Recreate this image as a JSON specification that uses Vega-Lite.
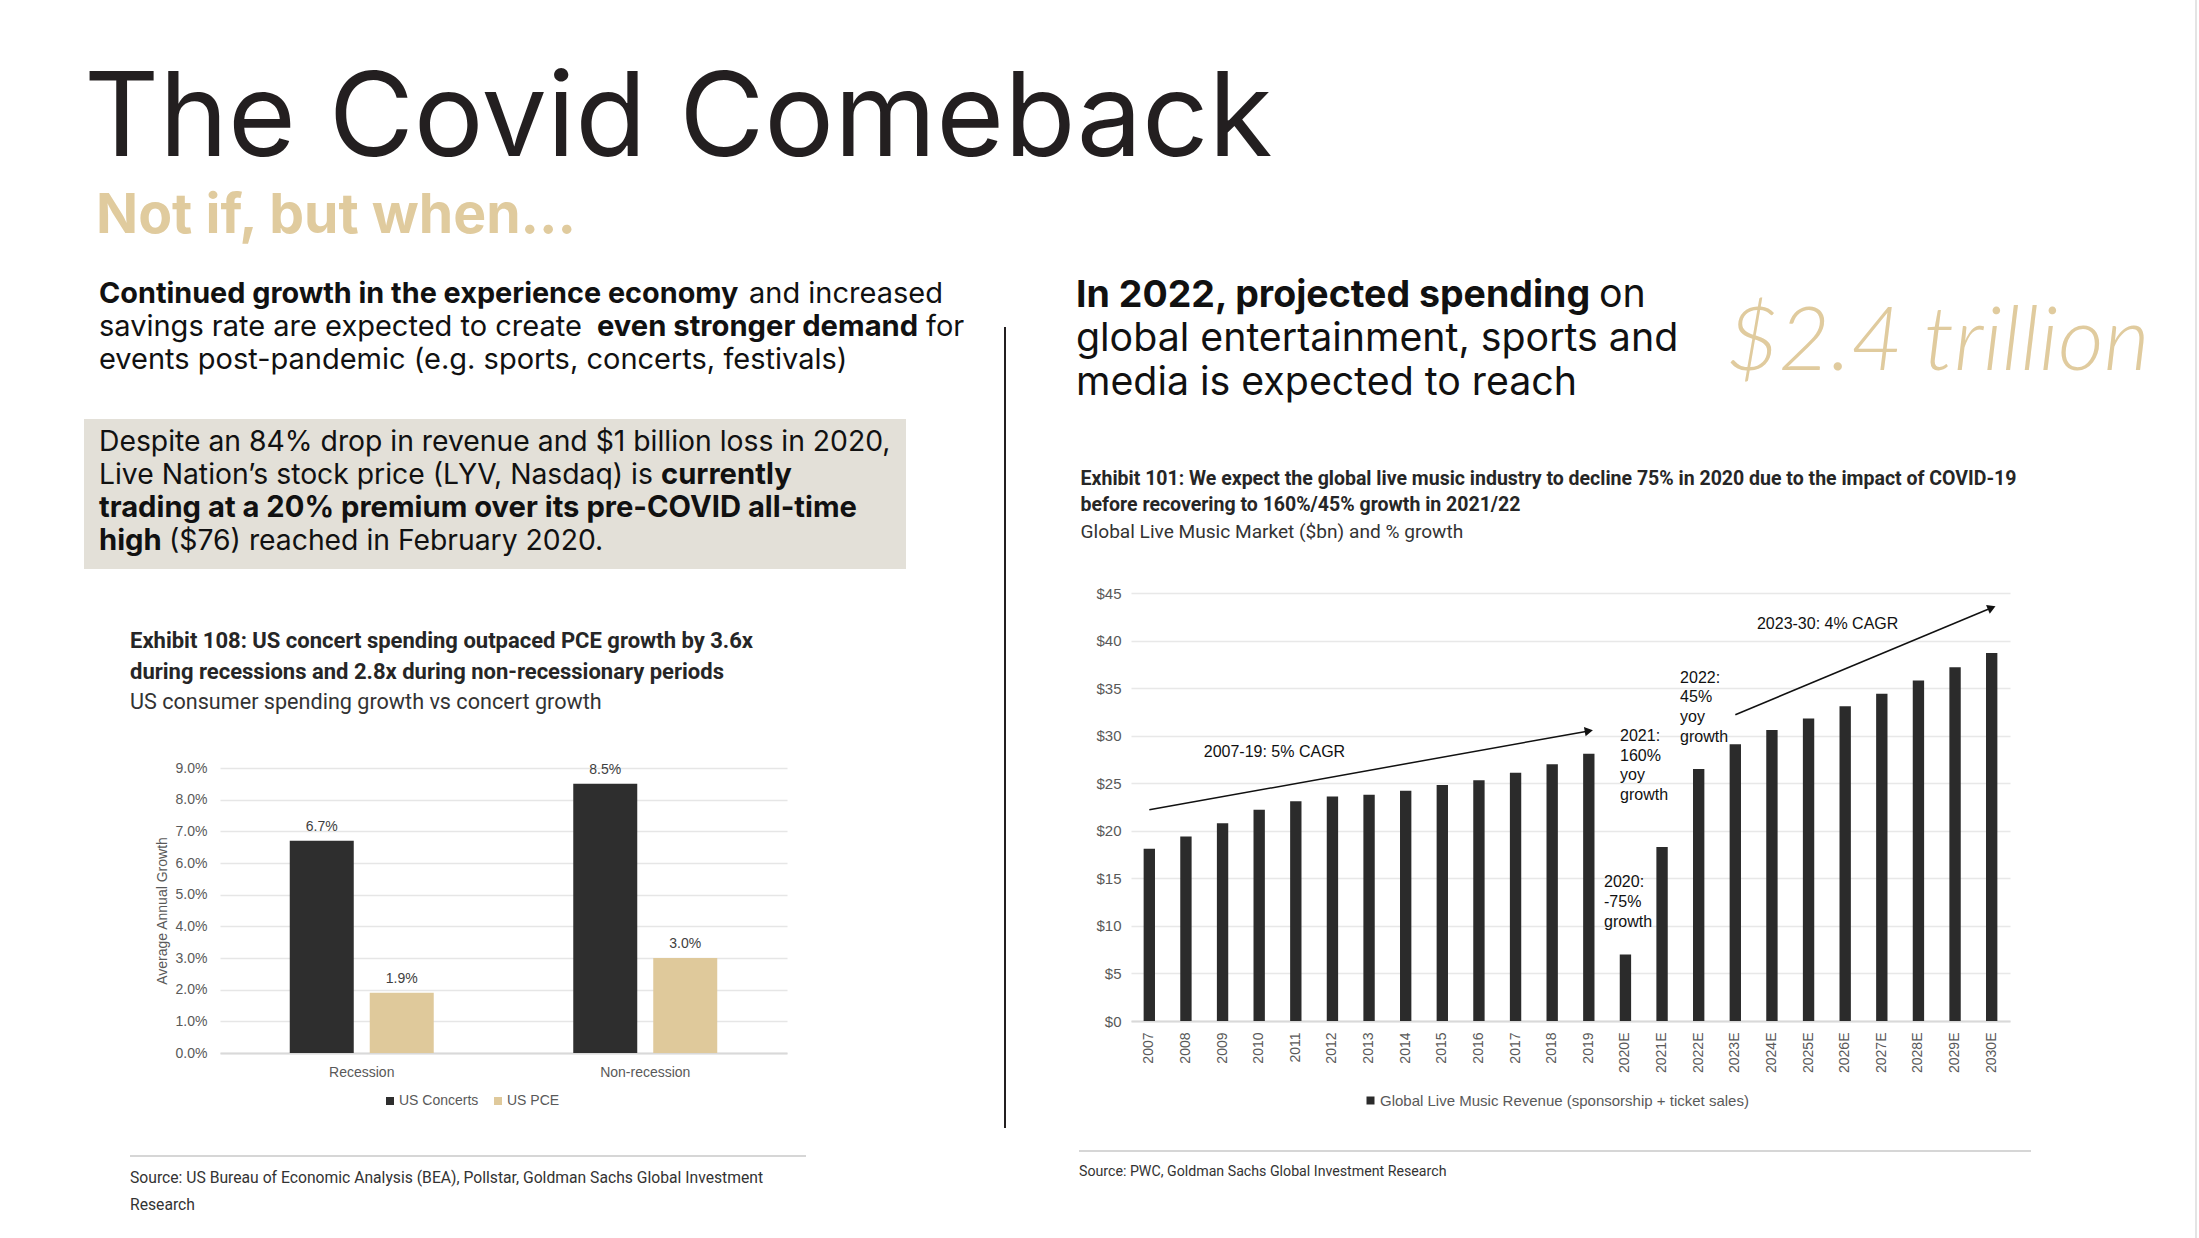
{
  "$schema": "https://vega.github.io/schema/vega-lite/v6.json",
  "background": "#ffffff",
  "padding": {"left": 84, "top": 0, "right": 0, "bottom": 0},
  "config": {
    "view": {"stroke": null},
    "concat": {"spacing": 0},
    "font": "Liberation Sans",
    "axis": {"labelFont": "Liberation Sans", "titleFont": "Liberation Sans"},
    "legend": {"labelFont": "Liberation Sans"}
  },
  "bounds": "flush",
  "spacing": 0,
  "resolve": {"scale": {"x": "independent", "y": "independent", "color": "independent"}, "legend": {"color": "independent"}},
  "hconcat": [
    {
      "bounds": "flush",
      "spacing": 0,
      "resolve": {"scale": {"x": "independent", "y": "independent", "color": "independent"}, "legend": {"color": "independent"}},
      "vconcat": [
        {"width": 920, "height": 100, "data": {"values": []}, "mark": "point"},
        {
          "width": 920, "height": 111.4,
          "data": {"values": [{"text": "The Covid Comeback"}]},
          "mark": {"type": "text", "align": "left", "baseline": "alphabetic", "font": "Inter", "fontSize": 116.5, "fontWeight": 400, "color": "#231f20", "dx": 0},
          "encoding": {
            "x": {"datum": 0, "type": "quantitative", "scale": {"domain": [0, 1]}, "axis": null},
            "text": {"field": "text"}
          }
        },
        {
          "width": 920, "height": 41.2,
          "data": {"values": [{"text": "Not if, but when..."}]},
          "mark": {"type": "text", "align": "left", "baseline": "alphabetic", "font": "Inter", "fontSize": 55.3, "fontWeight": 700, "color": "#e0cb9e", "dx": 12},
          "encoding": {
            "x": {"datum": 0, "type": "quantitative", "scale": {"domain": [0, 1]}, "axis": null},
            "text": {"field": "text"}
          }
        },
        {"width": 920, "height": 32.75, "data": {"values": []}, "mark": "point"},
        {
          "width": 920, "height": 98.1,
          "data": {"values": [
            {"line": 1, "part": "b0", "text": "Continued growth in the experience economy"},
            {"line": 1, "part": "r1", "text": "and increased"},
            {"line": 2, "part": "r0", "text": "savings rate are expected to create"},
            {"line": 2, "part": "b1", "text": "even stronger demand"},
            {"line": 2, "part": "r2", "text": "for"},
            {"line": 3, "part": "r0", "text": "events post-pandemic (e.g. sports, concerts, festivals)"}
          ]},
          "encoding": {
            "x": {"datum": 0, "type": "quantitative", "scale": {"domain": [0, 1]}, "axis": null},
            "y": {"field": "line", "type": "ordinal", "axis": null, "scale": {"padding": 0.5}},
            "text": {"field": "text"}
          },
          "layer": [
            {"transform": [{"filter": "datum.part === 'b0'"}], "mark": {"type": "text", "align": "left", "baseline": "alphabetic", "font": "Inter", "fontSize": 28.8, "fontWeight": 700, "color": "#111111", "dx": 15}},
            {"transform": [{"filter": "datum.part === 'r0'"}], "mark": {"type": "text", "align": "left", "baseline": "alphabetic", "font": "Inter", "fontSize": 29, "fontWeight": 400, "color": "#111111", "dx": 15}},
            {"transform": [{"filter": "datum.part === 'r1'"}], "mark": {"type": "text", "align": "left", "baseline": "alphabetic", "font": "Inter", "fontSize": 29, "fontWeight": 400, "color": "#111111", "dx": 665}},
            {"transform": [{"filter": "datum.part === 'b1'"}], "mark": {"type": "text", "align": "left", "baseline": "alphabetic", "font": "Inter", "fontSize": 29.2, "fontWeight": 700, "color": "#111111", "dx": 513}},
            {"transform": [{"filter": "datum.part === 'r2'"}], "mark": {"type": "text", "align": "left", "baseline": "alphabetic", "font": "Inter", "fontSize": 29, "fontWeight": 400, "color": "#111111", "dx": 842}}
          ]
        },
        {"width": 920, "height": 32.55, "data": {"values": []}, "mark": "point"},
        {
          "width": 822, "height": 150,
          "view": {"fill": "#e3e0d8", "stroke": null},
          "data": {"values": [
            {"line": 1, "part": "r0", "text": "Despite an 84% drop in revenue and $1 billion loss in 2020,"},
            {"line": 2, "part": "r0", "text": "Live Nation’s stock price (LYV, Nasdaq) is"},
            {"line": 2, "part": "b1", "text": "currently"},
            {"line": 3, "part": "b0", "text": "trading at a 20% premium over its pre-COVID all-time"},
            {"line": 4, "part": "b0", "text": "high"},
            {"line": 4, "part": "r1", "text": "($76) reached in February 2020."}
          ]},
          "encoding": {
            "x": {"datum": 0, "type": "quantitative", "scale": {"domain": [0, 1]}, "axis": null},
            "y": {"field": "line", "type": "ordinal", "axis": null, "scale": {"padding": 0.787, "align": 0.626}},
            "text": {"field": "text"}
          },
          "layer": [
            {"transform": [{"filter": "datum.part === 'r0'"}], "mark": {"type": "text", "align": "left", "baseline": "alphabetic", "font": "Inter", "fontSize": 28.3, "fontWeight": 400, "color": "#111111", "dx": 15}},
            {"transform": [{"filter": "datum.part === 'b0'"}], "mark": {"type": "text", "align": "left", "baseline": "alphabetic", "font": "Inter", "fontSize": 29.2, "fontWeight": 700, "color": "#111111", "dx": 15}},
            {"transform": [{"filter": "datum.part === 'b1'"}], "mark": {"type": "text", "align": "left", "baseline": "alphabetic", "font": "Inter", "fontSize": 29.2, "fontWeight": 700, "color": "#111111", "dx": 577}},
            {"transform": [{"filter": "datum.part === 'r1'"}], "mark": {"type": "text", "align": "left", "baseline": "alphabetic", "font": "Inter", "fontSize": 28.3, "fontWeight": 400, "color": "#111111", "dx": 85}}
          ]
        },
        {"width": 920, "height": 199, "data": {"values": []}, "mark": "point"},
        {
          "bounds": "flush",
          "spacing": 0,
          "resolve": {"scale": {"x": "independent", "y": "independent", "color": "independent"}, "legend": {"color": "independent"}},
          "hconcat": [
            {"width": 136, "height": 285, "data": {"values": []}, "mark": "point"},
            {
              "width": 567, "height": 285,
              "title": {
                "text": ["Exhibit 108: US concert spending outpaced PCE growth by 3.6x", "during recessions and 2.8x during non-recessionary periods"],
                "subtitle": "US consumer spending growth vs concert growth",
                "anchor": "start", "frame": "group", "dx": -90, "offset": 46.5,
                "font": "Roboto", "fontSize": 22, "fontWeight": "bold", "color": "#262626", "lineHeight": 31,
                "subtitleFont": "Roboto", "subtitleFontSize": 21.6, "subtitleFontWeight": 400, "subtitleColor": "#333333", "subtitlePadding": 7.7
              },
              "data": {"values": [
                {"period": "Recession", "series": "US Concerts", "growth": 0.067},
                {"period": "Recession", "series": "US PCE", "growth": 0.019},
                {"period": "Non-recession", "series": "US Concerts", "growth": 0.085},
                {"period": "Non-recession", "series": "US PCE", "growth": 0.030}
              ]},
              "encoding": {
                "x": {"field": "period", "type": "nominal", "sort": ["Recession", "Non-recession"],
                  "scale": {"paddingInner": 0, "paddingOuter": 0},
                  "axis": {"title": null, "labelAngle": 0, "labelFontSize": 14, "labelColor": "#595959", "labelPadding": 12, "ticks": false, "domainColor": "#d9d9d9", "domainWidth": 2}},
                "xOffset": {"field": "series", "type": "nominal", "sort": ["US Concerts", "US PCE"], "scale": {"paddingInner": 0.2, "paddingOuter": 0.872}},
                "y": {"field": "growth", "type": "quantitative",
                  "scale": {"domain": [0, 0.09], "nice": false},
                  "axis": {"values": [0, 0.01, 0.02, 0.03, 0.04, 0.05, 0.06, 0.07, 0.08, 0.09], "format": ".1%", "labelFontSize": 14, "labelColor": "#595959", "labelPadding": 13, "ticks": false, "domain": false, "gridColor": "#e6e6e6", "gridWidth": 1.5,
                    "title": "Average Annual Growth", "titleFontSize": 14, "titleFontWeight": "normal", "titleColor": "#595959", "titlePadding": 6}}
              },
              "layer": [
                {
                  "mark": {"type": "bar"},
                  "encoding": {
                    "color": {"field": "series", "type": "nominal",
                      "scale": {"domain": ["US Concerts", "US PCE"], "range": ["#2e2e2e", "#dfc99b"]},
                      "legend": {"orient": "none", "legendX": 163, "legendY": 326, "direction": "horizontal", "title": null, "symbolType": "square", "symbolSize": 64, "symbolStrokeWidth": 0, "labelFontSize": 14, "labelColor": "#595959", "labelOffset": 2, "columnPadding": 12}}
                  }
                },
                {
                  "mark": {"type": "text", "baseline": "middle", "dy": -14, "fontSize": 14, "color": "#404040"},
                  "encoding": {"text": {"field": "growth", "type": "quantitative", "format": ".1%"}}
                }
              ]
            }
          ]
        },
        {"width": 920, "height": 285, "data": {"values": []}, "mark": "point"},
        {"width": 920, "height": 101.7, "data": {"values": []}, "mark": "point"},
        {
          "bounds": "flush",
          "spacing": 0,
          "hconcat": [
            {"width": 46, "height": 2, "data": {"values": []}, "mark": "point"},
            {
              "bounds": "flush",
              "spacing": 0,
              "vconcat": [
                {"width": 676, "height": 2, "view": {"fill": "#d6d6d6", "stroke": null}, "data": {"values": []}, "mark": "point"},
                {
                  "width": 676, "height": 66.3,
                  "data": {"values": [
                    {"line": 1, "text": "Source: US Bureau of Economic Analysis (BEA), Pollstar, Goldman Sachs Global Investment"},
                    {"line": 2, "text": "Research"}
                  ]},
                  "mark": {"type": "text", "align": "left", "baseline": "alphabetic", "font": "Roboto", "fontSize": 15.7, "fontWeight": 400, "color": "#333333"},
                  "encoding": {
                    "x": {"datum": 0, "type": "quantitative", "scale": {"domain": [0, 1]}, "axis": null},
                    "y": {"field": "line", "type": "ordinal", "axis": null, "scale": {"padding": 0.742, "align": 0.664}},
                    "text": {"field": "text"}
                  }
                }
              ]
            }
          ]
        }
      ]
    },
    {"width": 920, "height": 1, "data": {"values": []}, "mark": "point"},
    {
      "bounds": "flush",
      "spacing": 0,
      "vconcat": [
        {"width": 2, "height": 327, "data": {"values": []}, "mark": "point"},
        {"width": 2, "height": 801, "view": {"fill": "#231f20", "stroke": null}, "data": {"values": []}, "mark": "point"}
      ]
    },
    {"width": 71, "height": 1, "data": {"values": []}, "mark": "point"},
    {
      "bounds": "flush",
      "spacing": 0,
      "resolve": {"scale": {"x": "independent", "y": "independent", "color": "independent"}, "legend": {"color": "independent"}},
      "vconcat": [
        {"width": 956, "height": 284.6, "data": {"values": []}, "mark": "point"},
        {
          "width": 956, "height": 132.45,
          "data": {"values": [
            {"line": 1, "part": "b0", "text": "In 2022, projected spending"},
            {"line": 1, "part": "r1", "text": "on"},
            {"line": 2, "part": "r0", "text": "global entertainment, sports and"},
            {"line": 3, "part": "r0", "text": "media is expected to reach"},
            {"line": 2, "part": "hand", "text": "$2.4 trillion"}
          ]},
          "encoding": {
            "x": {"datum": 0, "type": "quantitative", "scale": {"domain": [0, 1]}, "axis": null},
            "y": {"field": "line", "type": "ordinal", "axis": null, "scale": {"padding": 0.5}},
            "text": {"field": "text"}
          },
          "layer": [
            {"transform": [{"filter": "datum.part === 'b0'"}], "mark": {"type": "text", "align": "left", "baseline": "alphabetic", "font": "Inter", "fontSize": 37.5, "fontWeight": 700, "color": "#111111", "dx": 1}},
            {"transform": [{"filter": "datum.part === 'r0'"}], "mark": {"type": "text", "align": "left", "baseline": "alphabetic", "font": "Inter", "fontSize": 39.3, "fontWeight": 400, "color": "#111111", "dx": 1}},
            {"transform": [{"filter": "datum.part === 'r1'"}], "mark": {"type": "text", "align": "left", "baseline": "alphabetic", "font": "Inter", "fontSize": 39.3, "fontWeight": 400, "color": "#111111", "dx": 524}},
            {"transform": [{"filter": "datum.part === 'hand'"}], "mark": {"type": "text", "align": "left", "baseline": "alphabetic", "font": "Lato", "fontStyle": "italic", "fontSize": 89, "fontWeight": 300, "color": "#e0cb9e", "dx": 652, "dy": 19}}
          ]
        },
        {"width": 956, "height": 174.95, "data": {"values": []}, "mark": "point"},
        {
          "bounds": "flush",
          "spacing": 0,
          "resolve": {"scale": {"x": "independent", "y": "independent", "color": "independent"}, "legend": {"color": "independent"}},
          "hconcat": [
            {"width": 56, "height": 428, "data": {"values": []}, "mark": "point"},
            {
              "width": 879, "height": 428,
              "title": {
                "text": ["Exhibit 101: We expect the global live music industry to decline 75% in 2020 due to the impact of COVID-19", "before recovering to 160%/45% growth in 2021/22"],
                "subtitle": "Global Live Music Market ($bn) and % growth",
                "anchor": "start", "frame": "group", "dx": -50.4, "offset": 42.6,
                "font": "Roboto", "fontSize": 19.5, "fontWeight": "bold", "color": "#262626", "lineHeight": 26.7,
                "subtitleFont": "Roboto", "subtitleFontSize": 19.1, "subtitleFontWeight": 400, "subtitleColor": "#333333", "subtitlePadding": 7.3
              },
              "encoding": {
                "x": {"field": "year", "type": "nominal",
                  "scale": {"domain": ["2007", "2008", "2009", "2010", "2011", "2012", "2013", "2014", "2015", "2016", "2017", "2018", "2019", "2020E", "2021E", "2022E", "2023E", "2024E", "2025E", "2026E", "2027E", "2028E", "2029E", "2030E"], "paddingInner": 0.69, "paddingOuter": 0.345},
                  "axis": {"title": null, "labelAngle": -90, "labelFontSize": 14, "labelColor": "#595959", "labelPadding": 11, "ticks": false, "domainColor": "#d9d9d9", "domainWidth": 2}},
                "y": {"field": "usd_bn", "type": "quantitative",
                  "scale": {"domain": [0, 45], "nice": false},
                  "axis": {"values": [0, 5, 10, 15, 20, 25, 30, 35, 40, 45], "labelExpr": "'$' + datum.value", "labelFontSize": 15, "labelColor": "#595959", "labelPadding": 10, "ticks": false, "domain": false, "gridColor": "#e8e8e8", "gridWidth": 1.5, "title": null}}
              },
              "layer": [
                {
                  "data": {"values": [
                    {"year": "2007", "usd_bn": 18.1},
                    {"year": "2008", "usd_bn": 19.4},
                    {"year": "2009", "usd_bn": 20.8},
                    {"year": "2010", "usd_bn": 22.2},
                    {"year": "2011", "usd_bn": 23.1},
                    {"year": "2012", "usd_bn": 23.6},
                    {"year": "2013", "usd_bn": 23.8},
                    {"year": "2014", "usd_bn": 24.2},
                    {"year": "2015", "usd_bn": 24.8},
                    {"year": "2016", "usd_bn": 25.3},
                    {"year": "2017", "usd_bn": 26.1},
                    {"year": "2018", "usd_bn": 27.0},
                    {"year": "2019", "usd_bn": 28.1},
                    {"year": "2020E", "usd_bn": 7.0},
                    {"year": "2021E", "usd_bn": 18.3},
                    {"year": "2022E", "usd_bn": 26.5},
                    {"year": "2023E", "usd_bn": 29.1},
                    {"year": "2024E", "usd_bn": 30.6},
                    {"year": "2025E", "usd_bn": 31.8},
                    {"year": "2026E", "usd_bn": 33.1},
                    {"year": "2027E", "usd_bn": 34.4},
                    {"year": "2028E", "usd_bn": 35.8},
                    {"year": "2029E", "usd_bn": 37.2},
                    {"year": "2030E", "usd_bn": 38.7}
                  ]},
                  "mark": {"type": "bar"},
                  "encoding": {
                    "color": {"datum": "Global Live Music Revenue (sponsorship + ticket sales)", "type": "nominal",
                      "scale": {"range": ["#2b2b2b"]},
                      "legend": {"orient": "none", "legendX": 232, "legendY": 500, "direction": "horizontal", "title": null, "symbolType": "square", "symbolSize": 64, "symbolStrokeWidth": 0, "labelFontSize": 15, "labelColor": "#595959", "labelOffset": 2, "labelLimit": 800}}
                  }
                },
                {
                  "data": {"values": [
                    {"arrow": "2007-19", "year": "2007", "usd_bn": 22.2},
                    {"arrow": "2007-19", "year": "2019", "usd_bn": 30.5},
                    {"arrow": "2023-30", "year": "2023E", "usd_bn": 32.2},
                    {"arrow": "2023-30", "year": "2030E", "usd_bn": 43.45}
                  ]},
                  "mark": {"type": "line", "color": "#111111", "strokeWidth": 1.5},
                  "encoding": {"detail": {"field": "arrow", "type": "nominal"}}
                },
                {
                  "data": {"values": [{"year": "2019", "usd_bn": 30.5}]},
                  "mark": {"type": "point", "shape": "triangle-up", "filled": true, "size": 90, "angle": 80, "color": "#111111", "opacity": 1}
                },
                {
                  "data": {"values": [{"year": "2030E", "usd_bn": 43.45}]},
                  "mark": {"type": "point", "shape": "triangle-up", "filled": true, "size": 90, "angle": 67, "color": "#111111", "opacity": 1}
                },
                {
                  "data": {"values": [{"year": "2009", "usd_bn": 27.8, "label": "2007-19: 5% CAGR"}]},
                  "mark": {"type": "text", "align": "left", "baseline": "alphabetic", "fontSize": 16, "color": "#111111", "dx": -18.8},
                  "encoding": {"text": {"field": "label"}}
                },
                {
                  "data": {"values": [{"year": "2024E", "usd_bn": 41.17, "label": "2023-30: 4% CAGR"}]},
                  "mark": {"type": "text", "align": "left", "baseline": "alphabetic", "fontSize": 16, "color": "#111111", "dx": -15},
                  "encoding": {"text": {"field": "label"}}
                },
                {
                  "data": {"values": [{"year": "2020E", "usd_bn": 29.44, "label": "2021:\n160%\nyoy\ngrowth"}]},
                  "mark": {"type": "text", "align": "left", "baseline": "alphabetic", "fontSize": 16, "color": "#111111", "dx": -5.4, "lineBreak": "\n", "lineHeight": 19.7},
                  "encoding": {"text": {"field": "label"}}
                },
                {
                  "data": {"values": [{"year": "2022E", "usd_bn": 35.57, "label": "2022:\n45%\nyoy\ngrowth"}]},
                  "mark": {"type": "text", "align": "left", "baseline": "alphabetic", "fontSize": 16, "color": "#111111", "dx": -18.6, "lineBreak": "\n", "lineHeight": 19.7},
                  "encoding": {"text": {"field": "label"}}
                },
                {
                  "data": {"values": [{"year": "2020E", "usd_bn": 14.05, "label": "2020:\n-75%\ngrowth"}]},
                  "mark": {"type": "text", "align": "left", "baseline": "alphabetic", "fontSize": 16, "color": "#111111", "dx": -21.4, "lineBreak": "\n", "lineHeight": 19.7},
                  "encoding": {"text": {"field": "label"}}
                }
              ]
            }
          ]
        },
        {"width": 956, "height": 428, "data": {"values": []}, "mark": "point"},
        {"width": 956, "height": 129, "data": {"values": []}, "mark": "point"},
        {
          "bounds": "flush",
          "spacing": 0,
          "hconcat": [
            {"width": 4, "height": 2, "data": {"values": []}, "mark": "point"},
            {"width": 952, "height": 2, "view": {"fill": "#d6d6d6", "stroke": null}, "data": {"values": []}, "mark": "point"}
          ]
        },
        {"width": 956, "height": 2, "data": {"values": []}, "mark": "point"},
        {
          "width": 956, "height": 48,
          "data": {"values": [{"text": "Source: PWC, Goldman Sachs Global Investment Research"}]},
          "mark": {"type": "text", "align": "left", "baseline": "alphabetic", "font": "Roboto", "fontSize": 14.2, "fontWeight": 400, "color": "#333333", "dx": 4},
          "encoding": {
            "x": {"datum": 0, "type": "quantitative", "scale": {"domain": [0, 1]}, "axis": null},
            "text": {"field": "text"}
          }
        }
      ]
    },
    {"width": 1120, "height": 1, "data": {"values": []}, "mark": "point"},
    {"width": 2, "height": 1238, "view": {"fill": "#e4e4e4", "stroke": null}, "data": {"values": []}, "mark": "point"}
  ]
}
